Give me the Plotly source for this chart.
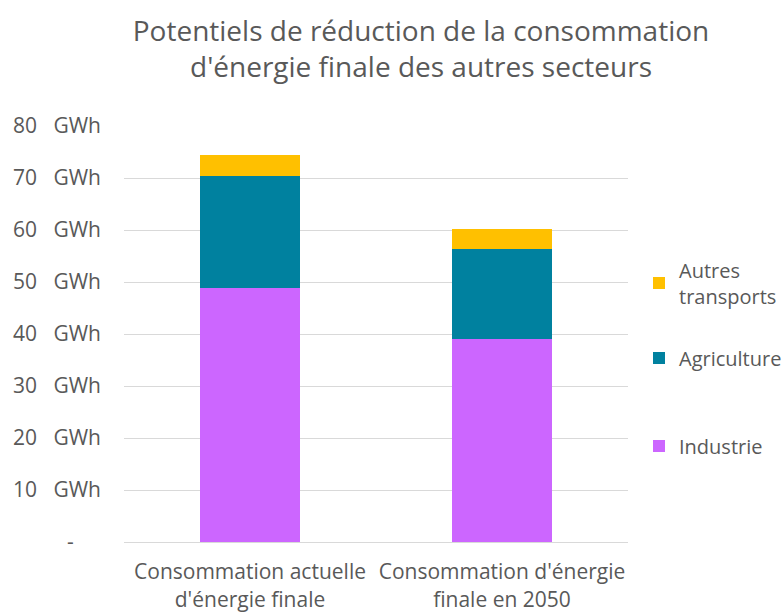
import plotly.graph_objects as go

categories = ["Consommation actuelle<br>d'énergie finale", "Consommation d'énergie<br>finale en 2050"]
industrie = [48.8, 39.0]
agriculture = [21.6, 17.3]
autres_transports = [4.0, 3.9]
tick_values = [0, 10, 20, 30, 40, 50, 60, 70, 80]
tick_labels = ["-" + "\u00a0" * 5] + [f"{v}\u00a0\u00a0\u00a0GWh" for v in tick_values[1:]]

FONT = "Open Sans"
GREY = "#595959"

fig = go.Figure()
fig.add_trace(go.Bar(name="Industrie", x=categories, y=industrie, marker_color="#CC66FF",
                     marker_line_width=0, legend="legend3"))
fig.add_trace(go.Bar(name="Agriculture", x=categories, y=agriculture, marker_color="#00819F",
                     marker_line_width=0, legend="legend2"))
fig.add_trace(go.Bar(name="Autres<br>transports", x=categories, y=autres_transports, marker_color="#FFC000",
                     marker_line_width=0, legend="legend"))

leg_common = dict(x=(639 - 124) / 504, xanchor="left", yanchor="middle", font=dict(size=20, color=GREY),
                  itemwidth=30, bgcolor="rgba(0,0,0,0)")

fig.update_layout(
    barmode="stack",
    bargap=0.6,
    width=800, height=613,
    margin=dict(l=124, r=172, t=126, b=71, autoexpand=False),
    paper_bgcolor="white", plot_bgcolor="white",
    font=dict(family=FONT, color=GREY, size=20),
    title=dict(text="Potentiels de réduction de la consommation<br>d'énergie finale des autres secteurs",
               x=421 / 800, xanchor="center", y=1 - 41 / 613, yanchor="top",
               font=dict(size=28, color=GREY, family=FONT)),
    legend=dict(y=(542 - 283) / 416, **leg_common),
    legend2=dict(y=(542 - 358) / 416, **leg_common),
    legend3=dict(y=(542 - 446) / 416, **leg_common),
    showlegend=True,
)
fig.update_yaxes(range=[0, 80], tickvals=tick_values, ticktext=tick_labels,
                 showgrid=True, gridcolor="#D9D9D9", gridwidth=1.3, zeroline=False,
                 showline=False, ticks="", ticklabelstandoff=22,
                 tickfont=dict(size=21, color=GREY))
fig.update_xaxes(showline=True, linecolor="#D9D9D9", linewidth=1.3, ticks="",
                 ticklabelstandoff=11, tickfont=dict(size=21, color=GREY))

fig.write_html("out.html", config={"displayModeBar": False},
               post_script="document.body.style.margin='0';document.body.style.overflow='hidden';")
